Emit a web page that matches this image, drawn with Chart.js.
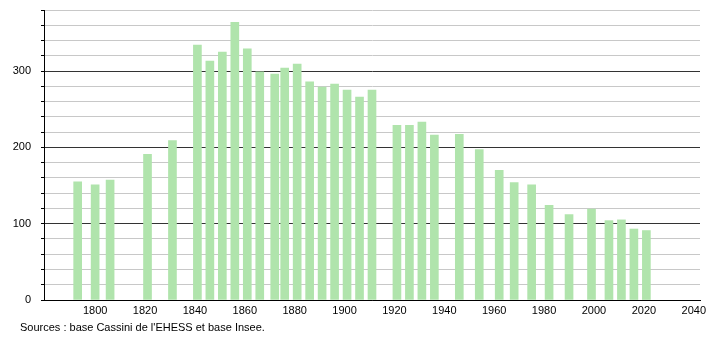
<!DOCTYPE html>
<html>
<head>
<meta charset="utf-8">
<script src="https://cdn.jsdelivr.net/npm/chart.js@4"></script>
<style>
  html, body { margin: 0; padding: 0; background: #fff; }
  #wrap { position: relative; width: 710px; height: 340px; }
  #source {
    position: absolute; left: 20px; top: 321px;
    font: 11px "Liberation Sans", Arial, sans-serif; color: #000;
  }
</style>
</head>
<body>
<div id="wrap">
  <canvas id="pop"></canvas>
  <div id="source">Sources : base Cassini de l'EHESS et base Insee.</div>
</div>
<script>
// Années de recensement et population
const annees = [1793, 1800, 1806, 1821, 1831, 1841, 1846, 1851, 1856, 1861, 1866, 1872,
  1876, 1881, 1886, 1891, 1896, 1901, 1906, 1911, 1921, 1926, 1931, 1936, 1946, 1954,
  1962, 1968, 1975, 1982, 1990, 1999, 2006, 2011, 2016, 2021];
const population = [155, 151, 157, 191, 209, 334, 313, 325, 364, 329, 299, 296,
  304, 309, 286, 279, 283, 275, 266, 275, 229, 229, 233, 216, 217, 197,
  170, 154, 151, 124, 112, 119, 104, 105, 93, 91];
const xTicks = [1800, 1820, 1840, 1860, 1880, 1900, 1920, 1940, 1960, 1980, 2000, 2020, 2040];
const yTicks = [0, 20, 40, 60, 80, 100, 120, 140, 160, 180, 200, 220, 240, 260, 280, 300, 320, 340, 360, 380];
const yLabels = [0, 100, 200, 300];

document.addEventListener('DOMContentLoaded', () => {
    const ctx = document.getElementById('pop').getContext('2d');
    Chart.defaults.font.family = '"Liberation Sans", Arial, sans-serif';
    Chart.defaults.font.size = 11;
    Chart.defaults.color = '#000';

    new Chart(ctx, {
        type: 'bar',
        data: {
            datasets: [{
                data: annees.map((a, i) => ({ x: a, y: population[i] })),
                backgroundColor: 'rgb(176, 228, 172)',
                barThickness: 8
            }]
        },
        options: {
            responsive: true,
            maintainAspectRatio: false,
            animation: false,
            layout: { padding: { top: 10, right: 10, left: 0, bottom: 0 } },
            plugins: { legend: { display: false }, tooltip: { enabled: false } },
            scales: {
                x: {
                    type: 'linear',
                    offset: false,
                    min: 1779.5,
                    max: 2042.5,
                    afterBuildTicks: s => { s.ticks = xTicks.map(v => ({ value: v })); },
                    afterFit: s => { s.height = 40; s.paddingLeft = 0; s.paddingRight = 0; },
                    grid: { display: false, drawTicks: false },
                    border: { color: '#000', width: 1 },
                    ticks: { padding: 4, maxRotation: 0, autoSkip: false, callback: v => String(v) }
                },
                y: {
                    min: 0,
                    max: 380,
                    afterBuildTicks: s => { s.ticks = yTicks.map(v => ({ value: v })); },
                    ticks: {
                        padding: 10,
                        autoSkip: false,
                        callback: v => yLabels.includes(v) ? String(v) : ''
                    },
                    afterFit: s => { s.width = 44; s.paddingTop = 0; s.paddingBottom = 0; },
                    grid: {
                        color: c => c.tick && c.tick.value % 100 === 0 ? '#333' : '#c8c8c8',
                        tickColor: '#000',
                        tickLength: 3
                    },
                    border: { color: '#000', width: 1 }
                }
            }
        }
    });
});
</script>
</body>
</html>
